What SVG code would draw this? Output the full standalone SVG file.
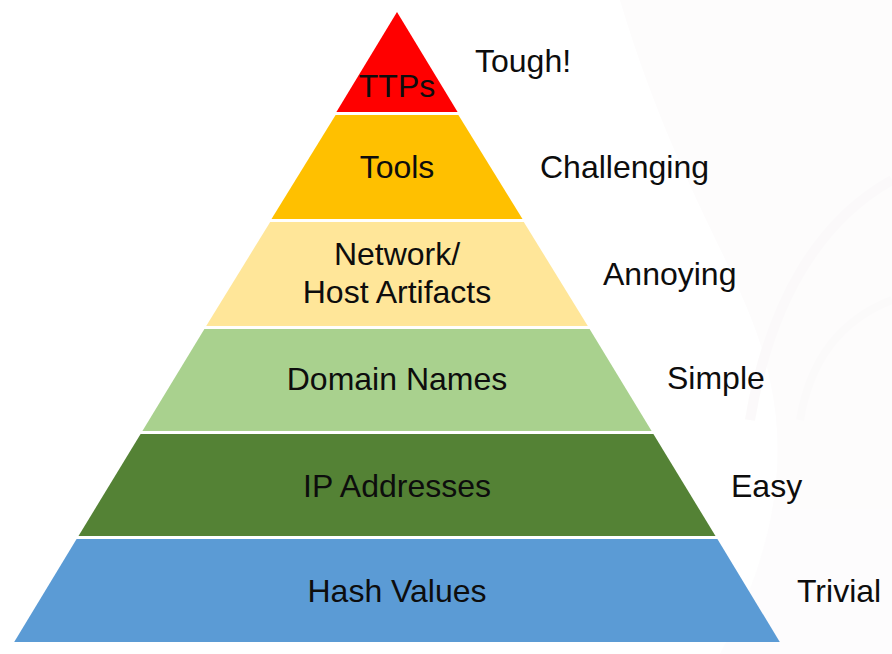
<svg xmlns="http://www.w3.org/2000/svg" width="892" height="654" viewBox="0 0 892 654">
  <style>
    .lbl { font-family: "Liberation Sans", Arial, sans-serif; font-size: 32px; fill: #0d0d0d; }
    .mid { text-anchor: middle; }
    .layer { stroke: none; }
  </style>
  <rect x="0" y="0" width="892" height="654" fill="#ffffff"/>
  <g id="background" opacity="0.5">
    <path d="M620 0 L892 0 L892 654 L720 654 C770 560 790 470 770 380 C750 280 680 200 620 0 Z" fill="#fcfafb"/>
    <path d="M892 180 C820 220 770 300 750 420" fill="none" stroke="#f8f5f6" stroke-width="10"/>
    <path d="M892 300 C840 320 810 360 800 420" fill="none" stroke="#f9f6f7" stroke-width="8"/>
  </g>
  <g id="pyramid">
    <g id="ttps">
      <polygon class="layer" points="397,12 457.6,112 336.4,112" fill="#ff0000"/>
      <text class="lbl mid" x="397" y="97" fill="#1a0000">TTPs</text>
    </g>
    <g id="tools">
      <polygon class="layer" points="335.6,115 458.4,115 522.5,219 271.5,219" fill="#ffc000"/>
      <text class="lbl mid" x="397" y="178">Tools</text>
    </g>
    <g id="network-host-artifacts">
      <polygon class="layer" points="270.2,222 523.8,222 587.8,326 206.2,326" fill="#ffe699"/>
      <text class="lbl mid" x="397" y="265">Network/</text>
      <text class="lbl mid" x="397" y="303">Host Artifacts</text>
    </g>
    <g id="domain-names">
      <polygon class="layer" points="204.4,329 589.6,329 651.6,431 142.4,431" fill="#a9d18e"/>
      <text class="lbl mid" x="397" y="390">Domain Names</text>
    </g>
    <g id="ip-addresses">
      <polygon class="layer" points="140.6,434 653.4,434 715.5,536 78.5,536" fill="#548235"/>
      <text class="lbl mid" x="397" y="497">IP Addresses</text>
    </g>
    <g id="hash-values">
      <polygon class="layer" points="76.6,539 717.4,539 779.8,642 14.2,642" fill="#5b9bd5"/>
      <text class="lbl mid" x="397" y="602">Hash Values</text>
    </g>
  </g>
  <g id="difficulty-labels">
    <text id="tough" class="lbl" x="475" y="72">Tough!</text>
    <text id="challenging" class="lbl" x="540" y="178">Challenging</text>
    <text id="annoying" class="lbl" x="603" y="285">Annoying</text>
    <text id="simple" class="lbl" x="667" y="389">Simple</text>
    <text id="easy" class="lbl" x="731" y="497">Easy</text>
    <text id="trivial" class="lbl" x="797" y="602">Trivial</text>
  </g>
</svg>
